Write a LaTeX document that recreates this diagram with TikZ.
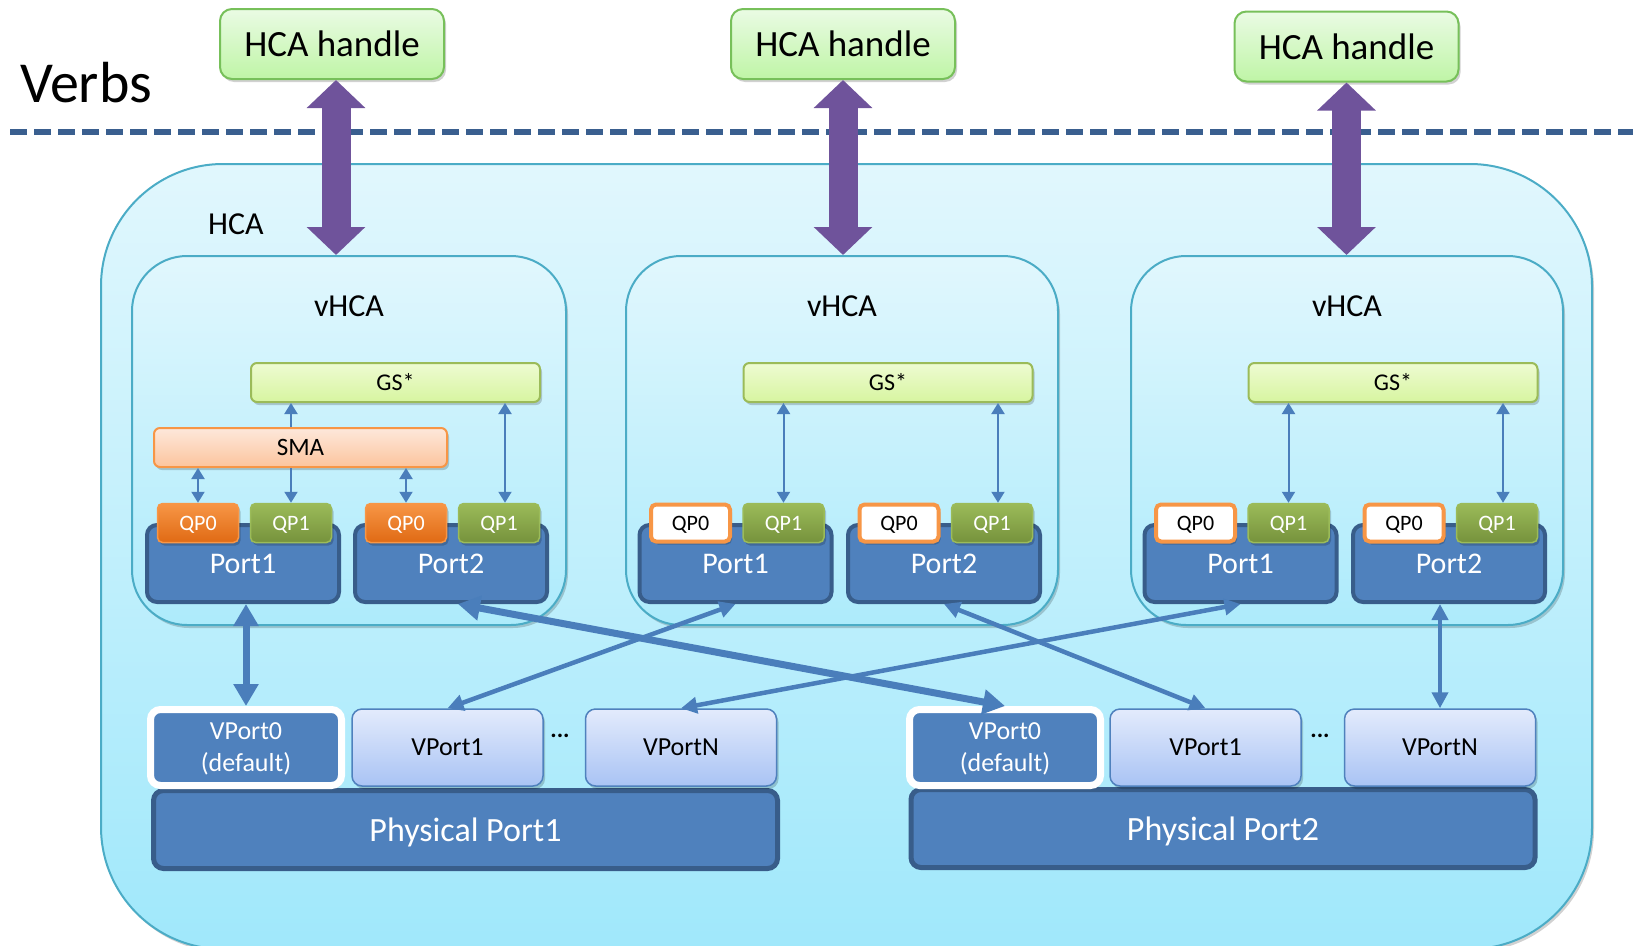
\documentclass[tikz,border=0pt]{standalone}
\usepackage{fontspec}
\setmainfont{Carlito}
\usepackage{tikz}
\usetikzlibrary{shapes,arrows.meta,positioning,shadows}

\definecolor{hcaline}{HTML}{4BACC6}
\definecolor{hcatop}{HTML}{E1F7FD}
\definecolor{hcabot}{HTML}{A0E8FB}
\definecolor{handleline}{HTML}{77C05A}
\definecolor{handletop}{HTML}{EAFBE4}
\definecolor{handlebot}{HTML}{BFF5A6}
\definecolor{gsline}{HTML}{9BBB59}
\definecolor{gstop}{HTML}{EEFBD2}
\definecolor{gsbot}{HTML}{D7F5A0}
\definecolor{smaline}{HTML}{F79646}
\definecolor{smatop}{HTML}{FDE8DB}
\definecolor{smabot}{HTML}{FCC49D}
\definecolor{qporange}{HTML}{F79646}
\definecolor{qporangedark}{HTML}{E06A14}
\definecolor{qpgreen}{HTML}{9BBB59}
\definecolor{qpgreendark}{HTML}{76923C}
\definecolor{portfill}{HTML}{4F81BD}
\definecolor{portline}{HTML}{385D8A}
\definecolor{vporttop}{HTML}{E3EBFC}
\definecolor{vportbot}{HTML}{A9C3F4}
\definecolor{linkblue}{HTML}{4A7EBB}
\definecolor{purplearrow}{HTML}{6F539B}
\definecolor{dashblue}{HTML}{3A5F8F}

\begin{document}
\begin{tikzpicture}[
  x=1pt, y=-1pt,
  every node/.style = {inner sep=0pt, align=center},
  softshadow/.style = {drop shadow={shadow xshift=2pt, shadow yshift=-3pt, fill=black, opacity=0.18}},
  hcabox/.style = {rectangle, rounded corners=122pt, draw=hcaline, line width=2pt,
      top color=hcatop, bottom color=hcabot, softshadow},
  vhcabox/.style = {rectangle, rounded corners=55pt, draw=hcaline, line width=2pt,
      top color=hcatop, bottom color=hcabot!80!hcatop, minimum height=369pt, softshadow},
  handle/.style = {rectangle, rounded corners=12pt, draw=handleline, line width=2pt,
      top color=handletop, bottom color=handlebot, minimum width=224pt, minimum height=70pt,
      font=\fontsize{37pt}{40pt}\selectfont, softshadow},
  gsbox/.style = {rectangle, rounded corners=6pt, draw=gsline, line width=2pt,
      top color=gstop, bottom color=gsbot, minimum width=289pt, minimum height=39pt,
      font=\fontsize{24pt}{26pt}\selectfont, softshadow},
  smabox/.style = {rectangle, rounded corners=6pt, draw=smaline, line width=2pt,
      top color=smatop, bottom color=smabot, minimum width=293pt, minimum height=39pt,
      font=\fontsize{25pt}{27pt}\selectfont, softshadow},
  qpzero/.style = {rectangle, rounded corners=5pt, draw=qporange, line width=1.5pt,
      top color=qporange, bottom color=qporangedark, text=white, minimum width=81pt,
      minimum height=39pt, text depth=0pt, font=\fontsize{22pt}{24pt}\selectfont, softshadow},
  qpwhite/.style = {rectangle, rounded corners=5pt, draw=qporange, line width=4pt,
      fill=white, minimum width=79pt, minimum height=37pt, text depth=0pt,
      font=\fontsize{22pt}{24pt}\selectfont, softshadow},
  qpone/.style = {rectangle, rounded corners=5pt, draw=gsline, line width=1.5pt,
      top color=qpgreen, bottom color=qpgreendark, text=white, minimum width=81pt,
      minimum height=39pt, text depth=0pt, font=\fontsize{22pt}{24pt}\selectfont, softshadow},
  portbox/.style = {rectangle, rounded corners=10pt, draw=portline, line width=4pt,
      fill=portfill, text=white, minimum width=192pt, minimum height=77pt,
      font=\fontsize{30pt}{32pt}\selectfont},
  vportdark/.style = {rectangle, rounded corners=10pt, draw=white, line width=7pt,
      fill=portfill, text=white, minimum width=191pt, minimum height=76pt, text depth=0pt,
      font=\fontsize{26pt}{32pt}\selectfont, softshadow},
  vportlight/.style = {rectangle, rounded corners=10pt, draw=portfill, line width=1.5pt,
      top color=vporttop, bottom color=vportbot, minimum width=191pt, minimum height=77pt,
      font=\fontsize{26pt}{32pt}\selectfont, softshadow},
  physport/.style = {rectangle, rounded corners=10pt, draw=portline, line width=5pt,
      fill=portfill, text=white, minimum width=624pt, minimum height=78pt, text depth=0pt,
      font=\fontsize{34pt}{36pt}\selectfont},
  boxlabel/.style = {font=\fontsize{32pt}{34pt}\selectfont},
  bigarrow/.style = {draw=purplearrow, line width=29pt,
      >={Triangle[width=57pt,length=28pt]}},
  thicklink/.style = {draw=linkblue, line width=7pt,
      >={Triangle[width=24pt,length=22pt]}},
  linkarrow/.style = {draw=linkblue, line width=4.5pt,
      >={Triangle[width=16pt,length=16pt]}},
  smallarrow/.style = {draw=linkblue, line width=2pt,
      >={Triangle[width=13pt,length=11pt]}}
]
\useasboundingbox (0,0) rectangle (1633,945);
\clip (0,0) rectangle (1633,945);

% Verbs layer
\node[font=\fontsize{58pt}{60pt}\selectfont] (verbs) at (86,83) {Verbs};
\draw[dashblue, line width=6pt, dash pattern=on 17pt off 7pt] (10,132) -- (1633,132);

\node[handle] (h1) at (332,44) {HCA handle};
\node[handle] (h2) at (843,44) {HCA handle};
\node[handle] (h3) at (1346.5,46.5) {HCA handle};

% HCA
\node[hcabox, minimum width=1491pt, minimum height=785pt] (hca) at (846.5,556.5) {};
\node[boxlabel] (hcalabel) at (236,224) {HCA};

% vHCAs
\node[vhcabox, minimum width=434pt] (v1) at (349,440.5) {};
\node[vhcabox, minimum width=432pt] (v2) at (842,440.5) {};
\node[vhcabox, minimum width=432pt] (v3) at (1347,440.5) {};
\node[boxlabel] (l1) at (349,306) {vHCA};
\node[boxlabel] (l2) at (842,306) {vHCA};
\node[boxlabel] (l3) at (1347,306) {vHCA};

\node[gsbox] (g1) at (395.5,382.5) {GS*};
\node[gsbox] (g2) at (888,382.5) {GS*};
\node[gsbox] (g3) at (1393,382.5) {GS*};
\node[smabox] (sma) at (300.5,447.5) {SMA};

% Ports and QPs
\node[portbox] (p11) at (243,563.5) {Port1};
\node[portbox] (p12) at (451,563.5) {Port2};
\node[portbox] (p21) at (735.5,563.5) {Port1};
\node[portbox] (p22) at (944,563.5) {Port2};
\node[portbox] (p31) at (1240.5,563.5) {Port1};
\node[portbox] (p32) at (1449,563.5) {Port2};

\node[qpzero] (qa11) at ([xshift=-45pt]p11.north) {QP0};
\node[qpone] (qb11) at ([xshift=48pt]p11.north) {QP1};
\node[qpzero] (qa12) at ([xshift=-45pt]p12.north) {QP0};
\node[qpone] (qb12) at ([xshift=48pt]p12.north) {QP1};
\node[qpwhite] (qa21) at ([xshift=-45pt]p21.north) {QP0};
\node[qpone] (qb21) at ([xshift=48pt]p21.north) {QP1};
\node[qpwhite] (qa22) at ([xshift=-45pt]p22.north) {QP0};
\node[qpone] (qb22) at ([xshift=48pt]p22.north) {QP1};
\node[qpwhite] (qa31) at ([xshift=-45pt]p31.north) {QP0};
\node[qpone] (qb31) at ([xshift=48pt]p31.north) {QP1};
\node[qpwhite] (qa32) at ([xshift=-45pt]p32.north) {QP0};
\node[qpone] (qb32) at ([xshift=48pt]p32.north) {QP1};

% small arrows
\draw[smallarrow,<->] (qa11.north) -- (qa11.north |- sma.south);
\draw[smallarrow,->] (sma.north -| qb11) -- (qb11 |- g1.south);
\draw[smallarrow,->] (sma.south -| qb11) -- (qb11.north);
\draw[smallarrow,<->] (qa12.north) -- (qa12.north |- sma.south);
\draw[smallarrow,<->] ([xshift=6pt]qb12.north) -- ([xshift=6pt]qb12.north |- g1.south);
\draw[smallarrow,<->] (qb21.north) -- (qb21.north |- g2.south);
\draw[smallarrow,<->] ([xshift=6pt]qb22.north) -- ([xshift=6pt]qb22.north |- g2.south);
\draw[smallarrow,<->] (qb31.north) -- (qb31.north |- g3.south);
\draw[smallarrow,<->] ([xshift=6pt]qb32.north) -- ([xshift=6pt]qb32.north |- g3.south);

% physical ports and vports
\node[physport] (pp1) at (465.5,829.5) {Physical Port1};
\node[physport] (pp2) at (1223,828.5) {Physical Port2};
\node[vportdark] (vp0a) at (246,747.5) {VPort0\\(default)};
\node[vportlight] (vp1a) at (447.5,747.5) {VPort1};
\node[vportlight] (vpNa) at (681,747.5) {VPortN};
\node[font=\bfseries\fontsize{24pt}{26pt}\selectfont] (dotsa) at (560,736) {...};
\node[vportdark] (vp0b) at (1005,747.5) {VPort0\\(default)};
\node[vportlight] (vp1b) at (1205.5,747.5) {VPort1};
\node[vportlight] (vpNb) at (1440,747.5) {VPortN};
\node[font=\bfseries\fontsize{24pt}{26pt}\selectfont] (dotsb) at (1320,736) {...};

% links
\draw[thicklink,<->] (vp0a.north) -- (vp0a.north |- p11.south);
\draw[thicklink,<->] ([xshift=7pt]p12.south) -- (vp0b.north);
\draw[linkarrow,<->] (p21.south) -- (vp1a.north);
\draw[linkarrow,<->] (p22.south) -- (vp1b.north);
\draw[linkarrow,<->] (p31.south) -- (vpNa.north);
\draw[linkarrow,<->] (vpNb.north) -- (vpNb.north |- p32.south);

% handles to vHCAs
\draw[bigarrow,<->] ([xshift=4pt]h1.south) -- ([xshift=4pt]h1.south |- v1.north);
\draw[bigarrow,<->] (h2.south) -- (h2.south |- v2.north);
\draw[bigarrow,<->] (h3.south) -- (h3.south |- v3.north);

\end{tikzpicture}
\end{document}
